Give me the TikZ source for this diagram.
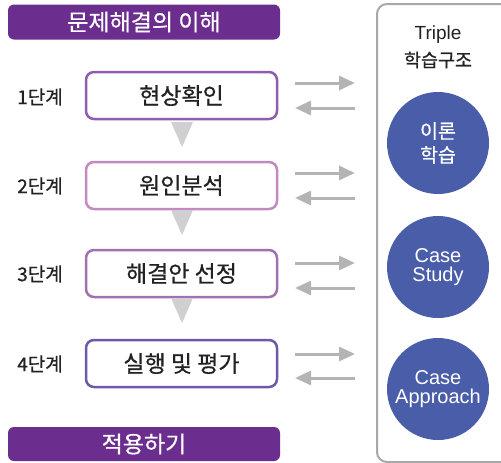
\documentclass[tikz,border=0pt]{standalone}
\usepackage{fontspec}
\setmainfont{Noto Sans CJK KR}[FakeBold=0.6]
\newfontfamily\lat{Liberation Sans}
\usetikzlibrary{arrows.meta}
\definecolor{banner}{HTML}{6B2D8E}
\definecolor{bA}{HTML}{8E5DB0}
\definecolor{bB}{HTML}{C48AC0}
\definecolor{bC}{HTML}{A070B0}
\definecolor{bD}{HTML}{6E58A8}
\definecolor{circ}{HTML}{4A5DA8}
\definecolor{arr}{HTML}{B4B4B4}
\definecolor{tri}{HTML}{D0D0D2}
\definecolor{panel}{HTML}{A8A8A8}
\definecolor{txt}{HTML}{222222}
\tikzset{
  bannerbox/.style={fill=banner, rounded corners=6pt, minimum width=272pt, minimum height=35pt, inner sep=0pt, text=white, font=\fontsize{23}{25}\selectfont},
  stagebox/.style={draw=#1, line width=2.5pt, fill=white, rounded corners=8pt, minimum width=191pt, minimum height=47pt, inner sep=0pt, text=txt, font=\fontsize{23}{25}\selectfont},
  stagelabel/.style={text=txt, font=\fontsize{19}{20}\selectfont, inner sep=0pt},
  learncirc/.style={circle, fill=circ, minimum size=102pt, inner sep=0pt, text=white, align=center},
  grayarrow/.style={draw=arr, line width=3pt, -{Triangle[length=16pt,width=14pt]}},
  downtri/.style={fill=tri, draw=none},
}
\begin{document}
\begin{tikzpicture}[x=1pt,y=-1pt]
\useasboundingbox (0,0) rectangle (501,463);
% right panel
\draw[panel, line width=2pt, rounded corners=10pt] (377,4) rectangle (520,462);
\node[text=txt, font=\lat\fontsize{19}{20}\selectfont, inner sep=0pt] (triple) at (438,35) {Triple};
\node[text=txt, font=\fontsize{18.5}{20}\selectfont, inner sep=0pt] (hakstruct) at (438,60) {학습구조};
\node[learncirc, font=\fontsize{19.5}{24}\selectfont] (c1) at (438,143) {이론\\학습};
\node[learncirc, font=\lat\fontsize{20}{19.5}\selectfont] (c2) at (438,267) {Case\\Study};
\node[learncirc, font=\lat\fontsize{20}{19.5}\selectfont] (c3) at (438,389) {Case\\Approach};
% banners
\node[bannerbox] (top) at (144,22) {문제해결의 이해};
\node[bannerbox, minimum height=34pt] (bot) at (144,444) {적용하기};
% stage boxes
\node[stagebox=bA] (s1) at (181.5,95.5) {현상확인};
\node[stagebox=bB] (s2) at (181.5,185.5) {원인분석};
\node[stagebox=bC] (s3) at (181.5,273.5) {해결안 선정};
\node[stagebox=bD] (s4) at (181.5,363.5) {실행 및 평가};
\node[stagelabel] (l1) at (40,97) {1단계};
\node[stagelabel] (l2) at (40,186) {2단계};
\node[stagelabel] (l3) at (40,274) {3단계};
\node[stagelabel] (l4) at (40,364) {4단계};
% triangles
\fill[downtri] (171,122) -- (193,122) -- (182,147) -- cycle;
\fill[downtri] (171,210) -- (193,210) -- (182,235) -- cycle;
\fill[downtri] (171,298) -- (193,298) -- (182,323) -- cycle;
% arrows
\foreach \i/\ya/\yb in {1/83/108, 2/173/198, 3/263/288, 4/354/378}{
  \coordinate (ra\i) at (295,\ya); \coordinate (rb\i) at (355,\ya);
  \coordinate (la\i) at (355,\yb); \coordinate (lb\i) at (295,\yb);
  \draw[grayarrow] (ra\i) -- (rb\i);
  \draw[grayarrow] (la\i) -- (lb\i);
}
\end{tikzpicture}
\end{document}
